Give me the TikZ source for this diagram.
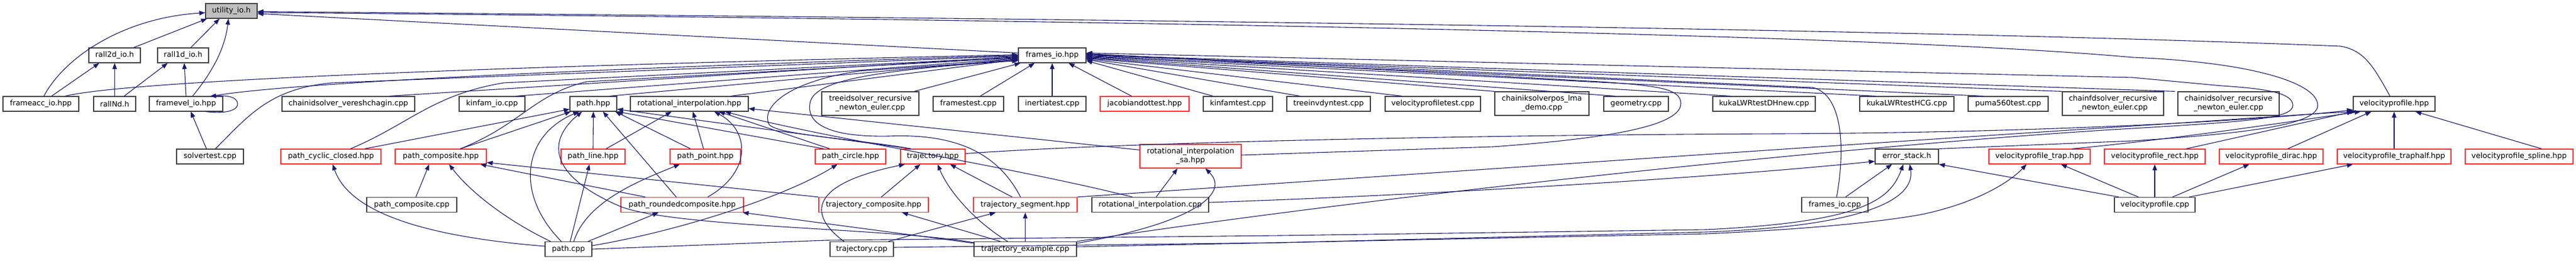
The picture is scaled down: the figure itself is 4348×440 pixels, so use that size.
\documentclass[tikz,border=0pt]{standalone}
\usepackage{fontspec}
\setmainfont{DejaVu Sans}
\usetikzlibrary{arrows.meta,calc}
\definecolor{edgec}{HTML}{191970}
\definecolor{boxc}{HTML}{404040}
\definecolor{redc}{HTML}{FF3030}
\definecolor{rootf}{HTML}{BFBFBF}
\begin{document}
\begin{tikzpicture}[x=1pt,y=-1pt,
  nb/.style={draw=boxc, line width=1.2pt, rectangle, inner sep=0pt, minimum height=25pt, font=\fontsize{12.6}{15}\selectfont, align=center},
  nr/.style={nb, draw=redc},
  nroot/.style={nb, fill=rootf},
  e/.style={draw=edgec, line width=1.1pt, -{Triangle[length=10pt,width=7.5pt]}}]
\useasboundingbox (0,0) rectangle (4348,440);
% row 1
\node[nroot, minimum width=87pt] (util) at (390.5,18.5) {utility\_io.h};
% row 2
\node[nb, minimum width=87pt] (r2d) at (193.5,93.5) {rall2d\_io.h};
\node[nb, minimum width=86pt] (r1d) at (309,93.5) {rall1d\_io.h};
\node[nb, minimum width=114pt] (fio) at (1776,93.5) {frames\_io.hpp};
% row 3
\node[nb, minimum width=128pt] (facc) at (69,175.5) {frameacc\_io.hpp};
\node[nb, minimum width=71pt] (rnd) at (193.5,175.5) {rallNd.h};
\node[nb, minimum width=124pt] (fvel) at (314,175.5) {framevel\_io.hpp};
\node[nb, minimum width=224pt] (vere) at (588,175.5) {chainidsolver\_vereshchagin.cpp};
\node[nb, minimum width=111pt] (kfio) at (830.5,175.5) {kinfam\_io.cpp};
\node[nb, minimum width=79pt] (path) at (1001.5,175.5) {path.hpp};
\node[nb, minimum width=199pt] (rot) at (1163.5,175.5) {rotational\_interpolation.hpp};
\node[nb, minimum width=164pt, minimum height=40pt] (treeid) at (1469,175) {treeidsolver\_recursive\\\_newton\_euler.cpp};
\node[nb, minimum width=119pt] (ftest) at (1634.5,175.5) {framestest.cpp};
\node[nb, minimum width=114pt] (itest) at (1776,175.5) {inertiatest.cpp};
\node[nr, minimum width=150pt] (jdot) at (1932,175.5) {jacobiandottest.hpp};
\node[nb, minimum width=117pt] (kftest) at (2089.5,175.5) {kinfamtest.cpp};
\node[nb, minimum width=141pt] (tidt) at (2242.5,175.5) {treeinvdyntest.cpp};
\node[nb, minimum width=161pt] (vpt) at (2418.5,175.5) {velocityprofiletest.cpp};
\node[nb, minimum width=159pt, minimum height=40pt] (lma) at (2602.5,175) {chainiksolverpos\_lma\\\_demo.cpp};
\node[nb, minimum width=109pt] (geo) at (2761.5,175.5) {geometry.cpp};
\node[nb, minimum width=173pt] (dhnew) at (2977.5,175.5) {kukaLWRtestDHnew.cpp};
\node[nb, minimum width=159pt] (hcg) at (3218.5,175.5) {kukaLWRtestHCG.cpp};
\node[nb, minimum width=135pt] (puma) at (3389.5,175.5) {puma560test.cpp};
\node[nb, minimum width=171pt, minimum height=40pt] (cfd) at (3566.5,175) {chainfdsolver\_recursive\\\_newton\_euler.cpp};
\node[nb, minimum width=171pt, minimum height=40pt] (cid) at (3761.5,175) {chainidsolver\_recursive\\\_newton\_euler.cpp};
\node[nb, minimum width=138pt] (vp) at (4041,175.5) {velocityprofile.hpp};
% row 4
\node[nb, minimum width=113pt] (solv) at (354.5,264.5) {solvertest.cpp};
\node[nr, minimum width=169pt] (pcc) at (558.5,264.5) {path\_cyclic\_closed.hpp};
\node[nr, minimum width=154pt] (pcomp) at (744,264.5) {path\_composite.hpp};
\node[nr, minimum width=108pt] (pline) at (1001,264.5) {path\_line.hpp};
\node[nr, minimum width=119pt] (ppoint) at (1190.5,264.5) {path\_point.hpp};
\node[nr, minimum width=119pt] (pcirc) at (1435.5,264.5) {path\_circle.hpp};
\node[nr, minimum width=109pt] (traj) at (1574.5,264.5) {trajectory.hpp};
\node[nr, minimum width=171pt, minimum height=40pt] (rsa) at (2009.5,264) {rotational\_interpolation\\\_sa.hpp};
\node[nb, minimum width=107pt] (err) at (3218.5,264.5) {error\_stack.h};
\node[nr, minimum width=171pt] (vtrap) at (3442.5,264.5) {velocityprofile\_trap.hpp};
\node[nr, minimum width=170pt] (vrect) at (3637,264.5) {velocityprofile\_rect.hpp};
\node[nr, minimum width=175pt] (vdirac) at (3833.5,264.5) {velocityprofile\_dirac.hpp};
\node[nr, minimum width=192pt] (vthalf) at (4041,264.5) {velocityprofile\_traphalf.hpp};
\node[nr, minimum width=182pt] (vspline) at (4252,264.5) {velocityprofile\_spline.hpp};
% row 5
\node[nb, minimum width=152pt] (pcompcpp) at (695,346) {path\_composite.cpp};
\node[nr, minimum width=207pt] (prc) at (1151.5,346) {path\_roundedcomposite.hpp};
\node[nr, minimum width=185pt] (tcomp) at (1474.5,346) {trajectory\_composite.hpp};
\node[nr, minimum width=175pt] (tseg) at (1730.5,346) {trajectory\_segment.hpp};
\node[nb, minimum width=197pt] (ricpp) at (1941.5,346) {rotational\_interpolation.cpp};
\node[nb, minimum width=112pt] (fiocpp) at (3097,346) {frames\_io.cpp};
\node[nb, minimum width=136pt] (vpcpp) at (3637,346) {velocityprofile.cpp};
% row 6
\node[nb, minimum width=79pt] (pathcpp) at (959.5,421) {path.cpp};
\node[nb, minimum width=107pt] (tcpp) at (1454.5,421) {trajectory.cpp};
\node[nb, minimum width=173pt] (tex) at (1730.5,421) {trajectory\_example.cpp};

% ---- edges to utility_io.h
\draw[e] ($(facc.north)+(5,0)$) .. controls (110,95) and (210,30) .. ($(util.west)+(0,3)$);
\draw[e] ($(r2d.north)+(32,0)$) -- ($(util.south west)+(3,0)$);
\draw[e] ($(r1d.north)+(13,0)$) -- ($(util.south)+(-20,0)$);
\draw[e] ($(fvel.north)+(11,0)$) .. controls (360,120) and (380,80) .. ($(util.south)+(-5,0)$);
\draw[e] ($(fio.west)+(0,-4)$) -- ($(util.east)+(0,4.5)$);
\draw[e] ($(vp.north)+(-7,0)$) .. controls (4005,110) and (3990,85) .. (3950,78) .. controls (3300,52) and (2200,35) .. ($(util.east)+(0,1)$);
\draw[e] (err.north east) -- (3600,238) .. controls (3800,225) and (3912,210) .. (3912,178) .. controls (3912,140) and (3800,105) .. (3600,97) .. controls (3250,65) and (2300,38) .. ($(util.east)+(0,2.5)$);
% ---- rall
\draw[e] ($(facc.north)+(18,0)$) -- ($(r2d.south)+(-26,0)$);
\draw[e] (rnd.north) -- (r2d.south);
\draw[e] ($(rnd.north)+(16,0)$) -- ($(r1d.south)+(-26,0)$);
\draw[e] (fvel.north) -- ($(r1d.south)+(2,0)$);
\draw[e] ($(solv.north)+(-6,0)$) -- ($(fvel.south)+(8,0)$);
\draw[e] ($(fvel.south east)+(-29,0)$) .. controls (385,193) and (402,185) .. (401,175) .. controls (400,164) and (385,161) .. ($(fvel.north east)+(-22,0)$);
% ---- fan into frames_io.hpp from the left
\draw[e] ($(facc.north)+(41,0)$) .. controls (200,140) and (700,115) .. ($(fio.west)+(0,-1)$);
\draw[e] ($(fvel.north east)+(-18,0)$) .. controls (420,150) and (700,125) .. ($(fio.west)+(0,0)$);
\draw[e] ($(solv.north east)+(-48,0)$) .. controls (420,195) and (455,150) .. (560,140) -- ($(fio.west)+(0,1)$);
\draw[e] ($(vere.north)+(69,0)$) -- ($(fio.west)+(0,2)$);
\draw[e] ($(pcc.north)+(33,0)$) .. controls (690,210) and (730,160) .. (850,140) -- ($(fio.west)+(0,3)$);
\draw[e] ($(pcomp.north)+(33,0)$) .. controls (880,210) and (900,160) .. (990,138) -- ($(fio.west)+(0,4)$);
\draw[e] ($(kfio.north)+(40,0)$) -- ($(fio.west)+(0,5)$);
\draw[e] ($(path.north)+(27,0)$) -- ($(fio.west)+(0,6)$);
\draw[e] ($(rot.north)+(70,0)$) -- ($(fio.west)+(0,7)$);
\draw[e] ($(treeid.north)+(74,0)$) -- ($(fio.south west)+(4,0)$);
\draw[e] ($(traj.north)+(-37,0)$) .. controls (1450,235) and (1310,228) .. (1298,210) .. controls (1285,185) and (1320,140) .. (1450,120) -- ($(fio.west)+(0,8)$);
\draw[e] ($(tseg.north)+(-8,0)$) .. controls (1680,250) and (1600,226) .. (1500,230) .. controls (1390,232) and (1362,205) .. (1367,175) .. controls (1372,140) and (1450,120) .. ($(fio.west)+(0,9)$);
\draw[e] ($(ftest.north)+(20,0)$) -- ($(fio.south west)+(28,0)$);
\draw[e] (itest.north) -- (fio.south);
\draw[e] ($(jdot.north)+(-22,0)$) -- ($(fio.south east)+(-30,0)$);
% ---- fan into frames_io.hpp from the right
\draw[e] ($(kftest.north)+(-42,0)$) -- ($(fio.east)+(0,9)$);
\draw[e] ($(tidt.north west)+(23,0)$) -- ($(fio.east)+(0,7)$);
\draw[e] ($(vpt.north)+(-52,0)$) -- ($(fio.east)+(0,6)$);
\draw[e] (lma.north west) -- ($(fio.east)+(0,5)$);
\draw[e] ($(geo.north)+(-35,0)$) -- ($(fio.east)+(0,4)$);
\draw[e] ($(dhnew.north)+(-56,0)$) -- ($(fio.east)+(0,3)$);
\draw[e] ($(hcg.north)+(-52,0)$) -- ($(fio.east)+(0,2)$);
\draw[e] ($(puma.north)+(-41,0)$) -- ($(fio.east)+(0,1)$);
\draw[e] (cfd.north west) -- ($(fio.east)+(0,0)$);
\draw[e] ($(cid.north west)+(-4,0)$) -- ($(fio.east)+(0,-1)$);
\draw[e] ($(fiocpp.north)+(3,0)$) .. controls (3115,250) and (3110,160) .. (3060,148) -- ($(fio.east)+(0,-2)$);
\draw[e] ($(rsa.east)+(0,-2)$) -- (2520,248) .. controls (2700,235) and (2837,215) .. (2837,175) .. controls (2837,150) and (2800,145) .. (2700,138) -- ($(fio.east)+(0,-3)$);
\draw[e] (tex.north east) .. controls (2400,320) and (3200,240) .. (3600,217) .. controls (3800,205) and (3870,200) .. (3870,178) .. controls (3870,158) and (3830,150) .. (3750,145) -- (3600,131) -- ($(fio.east)+(0,-4)$);
% ---- path.hpp
\draw[e] ($(pcc.north)+(57,0)$) -- ($(path.west)+(0,9)$);
\draw[e] ($(pcomp.north)+(33,0)$) -- ($(path.south west)+(2,0)$);
\draw[e] ($(pathcpp.north)+(-12,0)$) .. controls (870,330) and (880,230) .. ($(path.south)+(-24,0)$);
\draw[e] ($(tex.north west)+(0,2)$) .. controls (1500,385) and (1150,385) .. (1050,350) .. controls (930,300) and (920,240) .. ($(path.south)+(-19,0)$);
\draw[e] (pline.north) -- (path.south);
\draw[e] ($(ppoint.north)+(-25,0)$) -- ($(path.south east)+(-3,0)$);
\draw[e] ($(prc.north)+(-10,0)$) -- ($(path.south east)+(-24,0)$);
\draw[e] ($(pcirc.north)+(-45,0)$) -- ($(path.south east)+(0,0)$);
\draw[e] ($(traj.north)+(-37,0)$) -- ($(path.east)+(0,9)$);
% ---- rotational_interpolation.hpp
\draw[e] ($(pline.north)+(22,0)$) -- ($(rot.south)+(-30,0)$);
\draw[e] ($(ppoint.north)+(-3,0)$) -- ($(rot.south)+(6,0)$);
\draw[e] ($(prc.north)+(43,0)$) .. controls (1270,290) and (1265,220) .. ($(rot.south)+(42,0)$);
\draw[e] ($(pcirc.north)+(-35,0)$) -- ($(rot.south)+(50,0)$);
\draw[e] ($(ricpp.north west)+(69,0)$) .. controls (1700,280) and (1400,235) .. ($(rot.south east)+(-40,0)$);
\draw[e] ($(rsa.north west)+(0,10)$) -- ($(rot.east)+(0,8)$);
% ---- path_composite & co
\draw[e] ($(pcompcpp.north)+(7,0)$) -- ($(pcomp.south west)+(58,0)$);
\draw[e] ($(pathcpp.west)+(0,-5)$) .. controls (720,400) and (590,360) .. ($(pcc.south)+(3,0)$);
\draw[e] ($(pathcpp.north west)+(10,0)$) .. controls (850,370) and (790,320) .. ($(pcomp.south)+(14,0)$);
\draw[e] ($(pathcpp.north)+(3,0)$) -- ($(pline.south)+(-6,0)$);
\draw[e] ($(pathcpp.north)+(9,0)$) .. controls (990,340) and (1080,305) .. ($(ppoint.south)+(-43,0)$);
\draw[e] ($(pathcpp.north east)+(-7,0)$) -- ($(prc.south west)+(64,0)$);
\draw[e] ($(pathcpp.east)+(0,-6)$) .. controls (1150,390) and (1330,330) .. ($(pcirc.south)+(-22,0)$);
\draw[e] ($(prc.north west)+(42,0)$) -- ($(pcomp.south east)+(-11,0)$);
\draw[e] (tcomp.north west) -- ($(pcomp.south east)+(0,-3)$);
% ---- trajectory family
\draw[e] ($(tcomp.north)+(13,0)$) -- ($(traj.south)+(-21,0)$);
\draw[e] ($(tseg.north)+(-22,0)$) -- ($(traj.south)+(29,0)$);
\draw[e] ($(tex.north)+(-30,0)$) .. controls (1640,370) and (1600,320) .. ($(traj.south)+(8,0)$);
\draw[e] ($(tcpp.north)+(-30,0)$) .. controls (1360,360) and (1370,310) .. ($(traj.south west)+(8,0)$);
\draw[e] ($(tcpp.north)+(45,0)$) -- ($(tseg.south)+(-50,0)$);
\draw[e] (tex.north) -- (tseg.south);
\draw[e] ($(tex.north)+(-42,0)$) -- ($(tcomp.south)+(48,0)$);
\draw[e] ($(tex.north west)+(0,3)$) -- ($(prc.south east)+(-2,0)$);
\draw[e] ($(tex.east)+(0,-10)$) .. controls (2000,380) and (2080,330) .. ($(rsa.south)+(25,0)$);
\draw[e] ($(ricpp.north)+(10,0)$) -- ($(rsa.south)+(-22,0)$);
% ---- error_stack.h
\draw[e] (pathcpp.east) -- (1395,406) -- (2160,398) -- (2880,388) .. controls (3140,375) and (3190,340) .. ($(err.south)+(-6,0)$);
\draw[e] ($(tcpp.east)+(0,-3)$) -- (2160,410) -- (2880,392) .. controls (3200,380) and (3230,320) .. ($(err.south)+(5,0)$);
\draw[e] ($(fiocpp.north)+(18,0)$) -- ($(err.south)+(-25,0)$);
\draw[e] ($(ricpp.east)+(0,-4)$) .. controls (2400,330) and (2900,300) .. ($(err.west)+(0,8)$);
\draw[e] ($(vpcpp.north west)+(8,0)$) -- (err.south east);
% ---- velocityprofile.hpp
\draw[e] ($(traj.east)+(0,-5)$) .. controls (1900,240) and (2500,228) .. (3000,226) .. controls (3500,224) and (3850,200) .. ($(vp.west)+(0,10)$);
\draw[e] (tseg.north east) .. controls (2300,300) and (3300,232) .. (3600,213) .. controls (3800,200) and (3900,192) .. ($(vp.south west)+(5,0)$);
\draw[e] ($(vtrap.north)+(55,0)$) .. controls (3700,232) and (3900,200) .. ($(vp.south west)+(13,0)$);
\draw[e] ($(vrect.north)+(53,0)$) -- (vp.south west);
\draw[e] ($(vdirac.north)+(28,0)$) -- ($(vp.south west)+(31,0)$);
\draw[e] (vthalf.north) -- (vp.south);
\draw[e] ($(vspline.north)+(38,0)$) -- ($(vp.south)+(36,0)$);
% ---- velocityprofile.cpp and trap
\draw[e] ($(tex.east)+(0,-4)$) -- (2880,395) .. controls (3100,385) and (3200,370) .. (3240,363) .. controls (3330,345) and (3390,310) .. ($(vtrap.south)+(-22,0)$);
\draw[e] ($(vpcpp.north west)+(41,0)$) -- ($(vtrap.south)+(36,0)$);
\draw[e] (vpcpp.north) -- (vrect.south);
\draw[e] ($(vpcpp.north)+(30,0)$) -- ($(vdirac.south)+(-37,0)$);
\draw[e] ($(vpcpp.north)+(58,0)$) -- ($(vthalf.south west)+(27,0)$);
\end{tikzpicture}
\end{document}
